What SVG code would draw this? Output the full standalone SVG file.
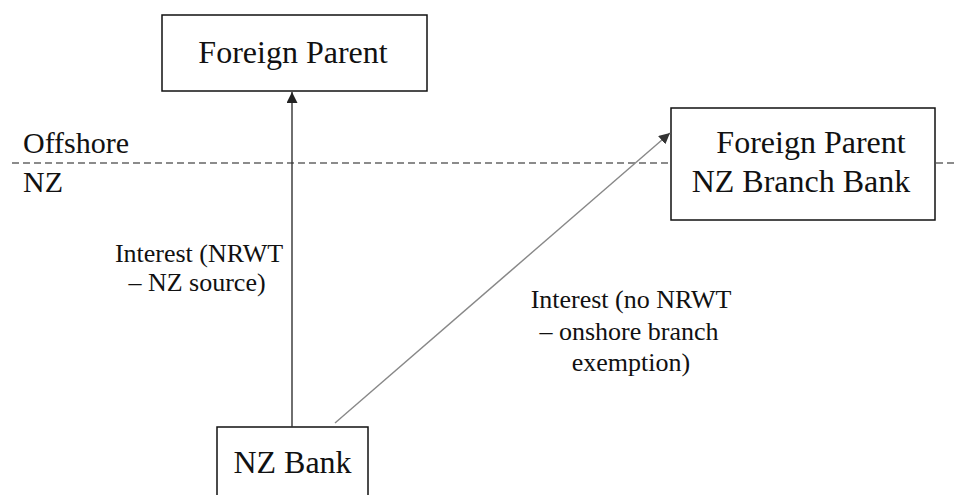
<svg xmlns="http://www.w3.org/2000/svg" width="957" height="495" viewBox="0 0 957 495">
<style>
.box{fill:#fff;stroke:#111;stroke-width:1.5}
.t{fill:#111}
.big{font-size:32px}
.side{font-size:30px}
.lab{font-size:26px}
</style>
<defs>
<marker id="ah" viewBox="0 0 10 10" refX="10" refY="5" markerWidth="11" markerHeight="11" markerUnits="userSpaceOnUse" orient="auto">
<path d="M0,0 L10,5 L0,10 Z" fill="#222"/>
</marker>
<marker id="ah2" viewBox="0 0 10 10" refX="10" refY="5" markerWidth="11" markerHeight="11" markerUnits="userSpaceOnUse" orient="auto">
<path d="M0,0 L10,5 L0,10 Z" fill="#333"/>
</marker>
</defs>
<rect width="957" height="495" fill="#fff"/>
<g font-family="'Liberation Serif', 'Times New Roman', 'DejaVu Serif', serif">
<g id="boundary">
<line x1="12" y1="163" x2="957" y2="163" stroke="#666" stroke-width="1.3" stroke-dasharray="7 4"/>
<text class="t side" x="23" y="153">Offshore</text>
<text class="t side" x="23" y="192">NZ</text>
</g>
<g id="foreign-parent">
<rect class="box" x="162" y="15" width="265" height="76"/>
<text class="t big" x="293" y="63" text-anchor="middle">Foreign Parent</text>
</g>
<g id="nz-branch-bank">
<rect class="box" x="671" y="108" width="264" height="112"/>
<text class="t big" x="811" y="153" text-anchor="middle">Foreign Parent</text>
<text class="t big" x="801" y="192" text-anchor="middle">NZ Branch Bank</text>
</g>
<g id="nz-bank">
<rect class="box" x="217" y="427" width="151" height="80"/>
<text class="t big" x="292.5" y="473" text-anchor="middle">NZ Bank</text>
</g>
<g id="connectors">
<line x1="292" y1="427" x2="292" y2="92" stroke="#333" stroke-width="1.4" marker-end="url(#ah)"/>
<line x1="335" y1="423" x2="670" y2="133" stroke="#888" stroke-width="1.4" marker-end="url(#ah2)"/>
</g>
<g id="labels">
<text class="t lab" text-anchor="middle"><tspan x="199" y="262">Interest (NRWT</tspan><tspan x="197" y="291">– NZ source)</tspan></text>
<text class="t lab" text-anchor="middle"><tspan x="631" y="308">Interest (no NRWT</tspan><tspan x="629" y="340">– onshore branch</tspan><tspan x="631" y="371">exemption)</tspan></text>
</g>
</g>
</svg>
